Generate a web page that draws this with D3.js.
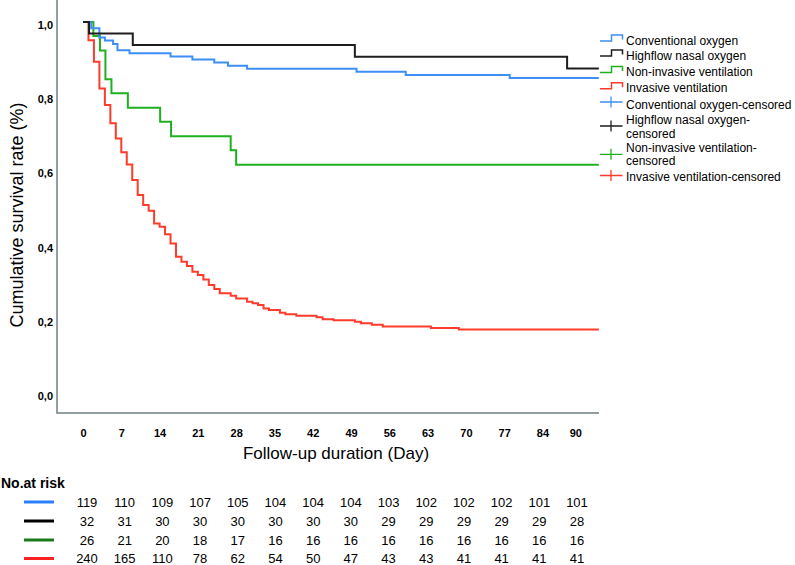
<!DOCTYPE html>
<html>
<head>
<meta charset="utf-8">
<script src="https://cdn.jsdelivr.net/npm/d3@7"></script>
<style>
  html, body { margin: 0; padding: 0; background: #fff; }
  svg { display: block; }
</style>
</head>
<body>
<svg id="chart" width="795" height="565"></svg>
<script>
// ---------------- DATA ----------------
const seriesNames = ["Conventional oxygen", "Highflow nasal oxygen", "Non-invasive ventilation", "Invasive ventilation"];
const censoredNames = [["Conventional oxygen-censored"], ["Highflow nasal oxygen-", "censored"], ["Non-invasive ventilation-", "censored"], ["Invasive ventilation-censored"]];

const convTimes = [0, 1.5, 3, 4, 5.5, 6.3, 8.5, 16, 20, 24, 26.5, 30, 50, 59, 78];
const convSurv  = [1, 0.983, 0.958, 0.950, 0.941, 0.924, 0.916, 0.907, 0.899, 0.891, 0.882, 0.874, 0.866, 0.857, 0.849];

const hfnoTimes = [0, 1.1, 9.1, 49.7, 88.5];
const hfnoSurv  = [1, 0.969, 0.938, 0.906, 0.875];

const nivTimes = [0, 1.9, 3.1, 4.1, 5.2, 8.2, 14.1, 16.1, 27, 28];
const nivSurv  = [1, 0.962, 0.923, 0.846, 0.808, 0.769, 0.731, 0.692, 0.654, 0.615];

const imvTimes = [0, 1, 2, 3, 4, 5, 6, 7, 8, 9, 10, 11, 12, 13, 14, 15, 16, 17, 18, 19, 20, 21, 22, 23, 24, 25, 27, 28, 30, 31, 32, 33, 34, 36, 37, 39, 42.7, 43.8, 45.8, 49.7, 50.8, 52.8, 54.8, 63.6, 68.7];
const imvSurv  = [1, 0.951, 0.893, 0.821, 0.776, 0.727, 0.686, 0.649, 0.616, 0.574, 0.534, 0.507, 0.491, 0.457, 0.448, 0.428, 0.403, 0.367, 0.354, 0.342, 0.327, 0.318, 0.306, 0.291, 0.280, 0.269, 0.262, 0.255, 0.246, 0.242, 0.237, 0.228, 0.224, 0.216, 0.212, 0.208, 0.204, 0.199, 0.196, 0.192, 0.188, 0.184, 0.179, 0.175, 0.171];

const followUpEnd = 94.3;

const xTicks = [0, 7, 14, 21, 28, 35, 42, 49, 56, 63, 70, 77, 84, 90];
const yTicks = [0, 0.2, 0.4, 0.6, 0.8, 1.0];
const yTickLabels = ["0,0", "0,2", "0,4", "0,6", "0,8", "1,0"];

const riskConv = [119, 110, 109, 107, 105, 104, 104, 104, 103, 102, 102, 102, 101, 101];
const riskHfno = [32, 31, 30, 30, 30, 30, 30, 30, 29, 29, 29, 29, 29, 28];
const riskNiv  = [26, 21, 20, 18, 17, 16, 16, 16, 16, 16, 16, 16, 16, 16];
const riskImv  = [240, 165, 110, 78, 62, 54, 50, 47, 43, 43, 41, 41, 41, 41];

// ---------------- STYLE ----------------
const curveColors = ["#3d8ef5", "#1e1e1e", "#1fb01f", "#ff3b2b"];
const riskColors  = ["#2a7fff", "#000000", "#1a7a1a", "#ff2020"];
const axisColor = "#6f7f80";
const narrow = "'Liberation Sans Narrow', 'Arial Narrow', 'Liberation Sans', Arial, sans-serif";
const sans = "'Liberation Sans', Arial, sans-serif";

const svg = d3.select("#chart");

const x = d3.scaleLinear().domain([0, 90]).range([83, 83 + 90 * 5.47]);
const y = d3.scaleLinear().domain([0, 1]).range([393, 22]);

const axisLeftX = 57, axisBottomY = 413, axisRightX = 599;

// axes (tick labels)
const gy = svg.append("g")
  .attr("transform", `translate(${axisLeftX},3)`)
  .call(d3.axisLeft(y).tickValues(yTicks).tickSize(0).tickPadding(4)
    .tickFormat((d, i) => yTickLabels[i]));
gy.select(".domain").remove();
gy.selectAll("text").attr("font-family", narrow).attr("font-weight", "bold")
  .attr("font-size", 11).attr("fill", "#000");

const gx = svg.append("g")
  .attr("transform", `translate(0,${axisBottomY})`)
  .call(d3.axisBottom(x).tickValues(xTicks).tickSize(0).tickPadding(16));
gx.select(".domain").remove();
gx.selectAll("text").attr("font-family", narrow).attr("font-weight", "bold")
  .attr("font-size", 11).attr("fill", "#000");

// axis lines
svg.append("path")
  .attr("d", `M${axisLeftX},0V${axisBottomY}H${axisRightX}`)
  .attr("fill", "none").attr("stroke", axisColor).attr("stroke-width", 1.5);

// axis titles
svg.append("text")
  .attr("transform", "translate(23,215) rotate(-90)")
  .attr("text-anchor", "middle")
  .attr("font-family", sans).attr("font-size", 18).attr("fill", "#000")
  .text("Cumulative survival rate (%)");

svg.append("text")
  .attr("x", 336).attr("y", 459)
  .attr("text-anchor", "middle")
  .attr("font-family", sans).attr("font-size", 17).attr("fill", "#000")
  .text("Follow-up duration (Day)");

// curves
const seriesData = [
  [convTimes, convSurv],
  [hfnoTimes, hfnoSurv],
  [nivTimes, nivSurv],
  [imvTimes, imvSurv]
].map(([t, s]) => {
  const pts = t.map((d, i) => [d, s[i]]);
  pts.push([followUpEnd, s[s.length - 1]]);
  return pts;
});

const line = d3.line().x(d => x(d[0])).y(d => y(d[1])).curve(d3.curveStepAfter);

// draw order: red, green, blue, black
[3, 2, 0, 1].forEach(i => {
  svg.append("path")
    .datum(seriesData[i])
    .attr("d", line)
    .attr("fill", "none")
    .attr("stroke", curveColors[i])
    .attr("stroke-width", 2);
});

// legend
const legX = 600;
const stepRows = [41, 56, 72.5, 88.7];
const stepTextY = [40.7, 55.3, 72, 88];
seriesNames.forEach((name, i) => {
  const yy = stepRows[i];
  svg.append("path")
    .attr("d", `M${legX},${yy}H${legX + 11.5}V${yy - 6}H${legX + 22.5}V${yy - 1.5}`)
    .attr("fill", "none").attr("stroke", curveColors[i]).attr("stroke-width", 1.5);
  svg.append("text")
    .attr("x", legX + 26).attr("y", stepTextY[i]).attr("dy", "0.35em")
    .attr("font-family", sans).attr("font-size", 12).attr("fill", "#000")
    .text(name);
});

const censIconY = [102, 126, 154.3, 175.5];
const censTextY = [[104.3], [120, 133.7], [147.3, 161], [176.7]];
censoredNames.forEach((lines, i) => {
  const yy = censIconY[i];
  svg.append("path")
    .attr("d", `M${legX},${yy}H${legX + 22.5}M${legX + 11},${yy - 5.5}V${yy + 5.5}`)
    .attr("fill", "none").attr("stroke", curveColors[i]).attr("stroke-width", 1.3);
  lines.forEach((t, j) => {
    svg.append("text")
      .attr("x", legX + 26).attr("y", censTextY[i][j]).attr("dy", "0.35em")
      .attr("font-family", sans).attr("font-size", 12).attr("fill", "#000")
      .text(t);
  });
});

// number at risk table
svg.append("text")
  .attr("x", 1).attr("y", 483).attr("dy", "0.35em")
  .attr("font-family", narrow).attr("font-weight", "bold").attr("font-size", 14).attr("fill", "#000")
  .text("No.at risk");

const colX = d3.scaleLinear().domain([0, xTicks.length - 1]).range([87, 577]);
const riskRows = [riskConv, riskHfno, riskNiv, riskImv];
const rowY = [502, 521, 540, 558.5];
riskRows.forEach((row, i) => {
  svg.append("line")
    .attr("x1", 24).attr("x2", 54).attr("y1", rowY[i]).attr("y2", rowY[i])
    .attr("stroke", riskColors[i]).attr("stroke-width", 3);
  svg.append("g").selectAll("text").data(row).join("text")
    .attr("x", (d, j) => colX(j)).attr("y", rowY[i]).attr("dy", "0.35em")
    .attr("text-anchor", "middle")
    .attr("font-family", narrow).attr("font-size", 13).attr("fill", "#000")
    .text(d => d);
});
</script>
</body>
</html>
